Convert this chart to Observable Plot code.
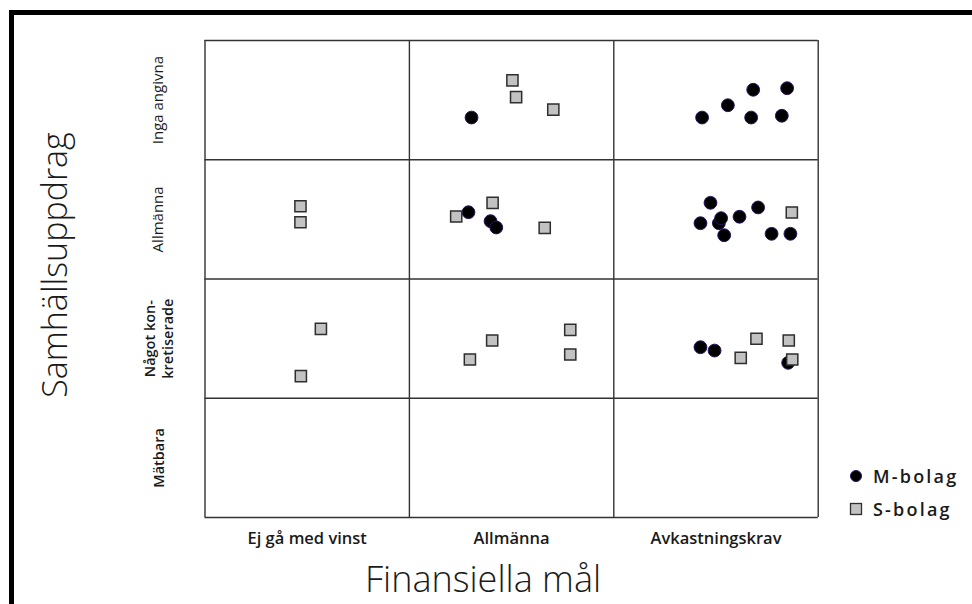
<!DOCTYPE html>
<html>
<head>
<meta charset="utf-8">
<script src="https://cdn.jsdelivr.net/npm/d3@7"></script>
<script src="https://cdn.jsdelivr.net/npm/@observablehq/plot@0.6"></script>
<style>
  html, body { margin: 0; padding: 0; background: #fff; overflow: hidden; }
  #wrap { position: relative; width: 972px; height: 604px; overflow: hidden; background: #fff; }
  #frame { position: absolute; left: 9px; top: 10px; width: 1100px; height: 800px; border: 5px solid #000; box-sizing: border-box; pointer-events: none; }
  #chart { position: absolute; left: 0; top: 0; }
  .title { position: absolute; font-family: "Open Sans", sans-serif; font-weight: 300; color: #1a1a1a; white-space: nowrap; line-height: normal; }
  #ytitle { left: 54px; top: 265px; font-size: 34px; transform: translate(-50%, -50%) rotate(-90deg); }
  #xtitle { left: 483px; top: 578px; font-size: 36px; transform: translate(-50%, -50%); }
  #legend { position: absolute; left: 0; top: 0; }
</style>
</head>
<body>
<div id="wrap">
  <div id="chart"></div>
  <div id="frame"></div>
  <div class="title" id="ytitle">Samhällsuppdrag</div>
  <div class="title" id="xtitle">Finansiella mål</div>
  <svg id="legend" width="972" height="604"></svg>
</div>
<script>
// ---- Data ----
const seriesNames = ["M-bolag", "S-bolag"];
// x-axis categories (Finansiella mål), left to right; column i spans [i, i+1]
const finansiellaMal = ["Ej gå med vinst", "Allmänna", "Avkastningskrav"];
// y-axis categories (Samhällsuppdrag), top to bottom; row spans [3-i, 4-i]
const samhallsuppdrag = ["Inga angivna", "Allmänna", "Något kon-\nkretiserade", "Mätbara"];

// M-bolag (circles): positions on the 0–3 (x) / 0–4 (y) grid
const mX = [1.304, 2.432, 2.558, 2.682, 2.672, 2.848, 2.822,
            1.289, 1.397, 1.425,
            2.473, 2.424, 2.514, 2.525, 2.615, 2.706, 2.540, 2.772, 2.864,
            2.424, 2.493, 2.853];
const mY = [3.354, 3.354, 3.457, 3.587, 3.354, 3.600, 3.369,
            2.560, 2.485, 2.432,
            2.639, 2.468, 2.468, 2.510, 2.522, 2.600, 2.367, 2.379, 2.379,
            1.428, 1.400, 1.297];

// S-bolag (squares)
const sX = [1.504, 1.522, 1.704,
            1.229, 1.407, 1.662,
            2.871,
            0.467, 0.467,
            0.567, 0.469,
            1.296, 1.405, 1.787, 1.787,
            2.621, 2.698, 2.856, 2.873];
const sY = [3.665, 3.525, 3.421,
            2.524, 2.639, 2.429,
            2.558,
            2.610, 2.476,
            1.582, 1.185,
            1.325, 1.484, 1.574, 1.367,
            1.339, 1.499, 1.484, 1.325];

// ---- Build ----
const mData = mX.map((x, i) => ({x, y: mY[i]}));
const sData = sX.map((x, i) => ({x, y: sY[i]}));
const nCols = finansiellaMal.length;
const nRows = samhallsuppdrag.length;
const colBounds = d3.range(nCols + 1);
const rowBounds = d3.range(nRows + 1);

const mStyle = {fill: "#000", stroke: "#2a1060", strokeWidth: 1};
const sStyle = {fill: "#c2c2c2", stroke: "#2e2e2e", strokeWidth: 1.5};

const chart = Plot.plot({
  width: 972,
  height: 604,
  marginLeft: 204.5,
  marginRight: 154.3,
  marginTop: 40,
  marginBottom: 87,
  x: {domain: [0, nCols], axis: null},
  y: {domain: [0, nRows], axis: null},
  style: {background: "transparent", fontFamily: "Open Sans, sans-serif", color: "#1a1a1a"},
  marks: [
    Plot.ruleX(colBounds, {x: d => d, stroke: "#333", strokeWidth: 1.4}),
    Plot.ruleY(rowBounds, {y: d => d, stroke: "#333", strokeWidth: 1.4}),
    Plot.dot(mData, {x: "x", y: "y", r: 6.4, symbol: "circle", ...mStyle}),
    Plot.dot(sData, {x: "x", y: "y", r: 6.3, symbol: "square", ...sStyle}),
    // x tick labels
    Plot.text(finansiellaMal, {
      x: (d, i) => i + 0.5, text: d => d, frameAnchor: "bottom", dy: 21,
      fontSize: 16.5, fontWeight: 600, fill: "#1a1a1a", textAnchor: "middle", lineAnchor: "middle"
    }),
    // y tick labels (regular)
    Plot.text(samhallsuppdrag, {
      filter: (d, i) => i < 2,
      y: (d, i) => nRows - i - 0.5, text: d => d, frameAnchor: "left", dx: -47,
      rotate: -90, fontSize: 15, fontWeight: 400, fill: "#1a1a1a", textAnchor: "middle", lineAnchor: "middle"
    }),
    // y tick labels (bold)
    Plot.text(samhallsuppdrag, {
      filter: (d, i) => i >= 2,
      y: (d, i) => nRows - i - 0.5, text: d => d, frameAnchor: "left", dx: -47,
      rotate: -90, fontSize: 14.5, fontWeight: 600, fill: "#1a1a1a", textAnchor: "middle", lineAnchor: "middle",
      lineHeight: 1.25
    })
  ]
});
document.getElementById("chart").appendChild(chart);

// ---- Legend ----
const leg = d3.select("#legend");
const items = leg.selectAll("g").data(seriesNames).join("g")
  .attr("transform", (d, i) => `translate(856, ${476 + i * 33})`);
items.filter((d, i) => i === 0).append("circle")
  .attr("r", 5.5).attr("fill", mStyle.fill).attr("stroke", mStyle.stroke).attr("stroke-width", 1);
items.filter((d, i) => i === 1).append("rect")
  .attr("x", -5.5).attr("y", -5.5).attr("width", 11).attr("height", 11)
  .attr("fill", sStyle.fill).attr("stroke", sStyle.stroke).attr("stroke-width", 1.3);
items.append("text")
  .attr("x", 17).attr("y", 7)
  .attr("font-family", "Open Sans, sans-serif")
  .attr("font-size", 18).attr("font-weight", 600)
  .attr("letter-spacing", 2.2)
  .attr("fill", "#1a1a1a")
  .text(d => d);
</script>
</body>
</html>
